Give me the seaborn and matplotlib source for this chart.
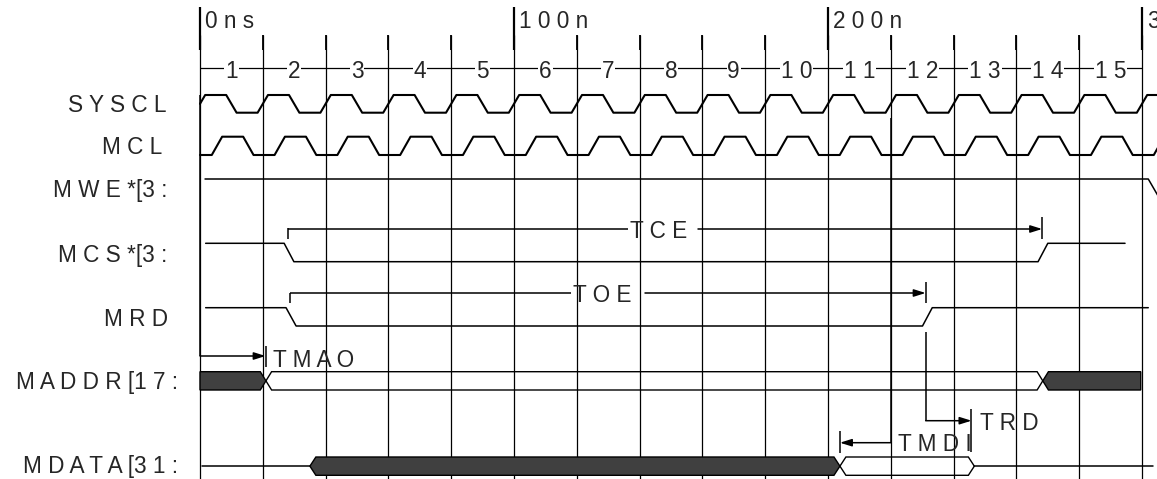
import numpy as np
import pandas as pd
import matplotlib
matplotlib.use("Agg")
import matplotlib.pyplot as plt
import seaborn as sns

# ---------------- data ----------------
signal_names = ["S Y S C L", "M C L", "M W E *[3 :", "M C S *[3 :", "M R D",
                "M A D D R [1 7 :", "M D A T A [3 1 :"]
time_marks_ns = [0, 100, 200, 300]
time_mark_labels = ["0 n s", "1 0 0 n", "2 0 0 n", "3"]
cycle_labels = ["1", "2", "3", "4", "5", "6", "7", "8", "9",
                "1 0", "1 1", "1 2", "1 3", "1 4", "1 5"]
clock_period_ns = 20
syscl_rise_ns = 0.0
mcl_rise_ns = 5.4
clock_edge_ns = 3.3

mwe_t = [1.6, 302.0, 305.5]
mwe_level = [1, 1, 0]
mcs_t = [1.8, 26.8, 29.9, 266.9, 270.0, 294.6]
mcs_level = [1, 1, 0, 0, 1, 1]
mrd_t = [1.8, 27.4, 30.6, 230.1, 233.2, 302.0]
mrd_level = [1, 1, 0, 0, 1, 1]

maddr_edges = [0.0, 21.0, 268.4, 299.6]
maddr_state = ["X", "V", "X"]
mdata_z_before = [0.6, 35.0]
mdata_edges = [35.0, 203.8, 246.6]
mdata_state = ["X", "V"]
mdata_z_after = [246.6, 303.5]

tce_ns = [28.0, 268.2]
toe_ns = [28.7, 231.1]
tmao_ns = [0.0, 20.9]
trd_ns = [231.1, 245.7]
tmdi_ns = [220.0, 203.8]

# ---------------- layout ----------------
PX0, PX_PER_NS, W, H = 200.0, 3.14, 1157, 479
def t_of(px):
    return (px - PX0) / PX_PER_NS

sns.set_theme(style="white")
plt.rcParams["font.family"] = ["Liberation Sans", "DejaVu Sans"]
FS = 16.3

fig = plt.figure(figsize=(W / 100, H / 100), dpi=100)
ax = fig.add_axes([0, 0, 1, 1])
ax.set_xlim(t_of(0), t_of(W))
ax.set_ylim(H, 0)
ax.axis("off")

# grid / ruler
grid_t = np.arange(0, 301, clock_period_ns)
ax.vlines(grid_t, 35, H, color="black", lw=0.9, zorder=1)
ax.vlines(grid_t, 35, 50, color="black", lw=1.3, zorder=1)
ax.vlines(time_marks_ns, 7, 50, color="black", lw=1.6, zorder=1)
for t, lab in zip(time_marks_ns, time_mark_labels):
    ax.text(t + t_of(205), 28.3, lab, fontsize=FS, ha="left", va="baseline")
ax.hlines(68, 0, 300, color="black", lw=0.9, zorder=1)
for i, lab in enumerate(cycle_labels):
    ax.text(grid_t[i] + clock_period_ns / 2, 78.3, lab, fontsize=FS, ha="center",
            va="baseline", zorder=3,
            bbox=dict(facecolor="white", edgecolor="none", pad=0.6))

# signal labels
label_right_px = [167, 162, 167, 167, 168, 178, 178]
label_base = [111.7, 154.3, 196.7, 261.7, 326.0, 389.3, 473.3]
for name, xr, yb in zip(signal_names, label_right_px, label_base):
    ax.text(t_of(xr), yb, name, fontsize=FS, ha="right", va="baseline")

# clocks
def clock_points(rise_c, t0, t1, y_hi, y_lo):
    rises = np.arange(rise_c - clock_period_ns, t1 + clock_period_ns, clock_period_ns)
    ts, ys = [], []
    for r in rises:
        f = r + clock_period_ns / 2
        e = clock_edge_ns / 2
        ts += [r - e, r + e, f - e, f + e]
        ys += [y_lo, y_hi, y_hi, y_lo]
    ts, ys = np.array(ts), np.array(ys)
    keep = (ts > t0) & (ts < t1)
    tt = np.concatenate([[t0], ts[keep], [t1]])
    yy = np.concatenate([[np.interp(t0, ts, ys)], ys[keep], [np.interp(t1, ts, ys)]])
    return tt, yy

rows = []
for sig, rc, hi, lo in [("SYSCL", syscl_rise_ns, 95.0, 112.7), ("MCL", mcl_rise_ns, 136.7, 155.0)]:
    tt, yy = clock_points(rc, 0.0, 310.0, hi, lo)
    rows += [dict(sig=sig, t=a, y=b, o=k) for k, (a, b) in enumerate(zip(tt, yy))]
clk = pd.DataFrame(rows)
sns.lineplot(data=clk, x="t", y="y", units="sig", estimator=None, sort=False,
             color="black", lw=1.5, ax=ax, legend=False, zorder=4)

rows = []
for sig, ts, lv, hi, lo in [("MWE", mwe_t, mwe_level, 179.0, 198.0),
                            ("MCS", mcs_t, mcs_level, 243.3, 261.7),
                            ("MRD", mrd_t, mrd_level, 307.7, 326.0),
                            ("MDZ1", mdata_z_before, [0.5, 0.5], 457.0, 475.3),
                            ("MDZ2", mdata_z_after, [0.5, 0.5], 457.0, 475.3)]:
    for k, (a, l) in enumerate(zip(ts, lv)):
        rows.append(dict(sig=sig, t=a, y=lo + (hi - lo) * l, o=k))
stp = pd.DataFrame(rows)
sns.lineplot(data=stp, x="t", y="y", units="sig", estimator=None, sort=False,
             color="black", lw=1.1, ax=ax, legend=False, zorder=4)

# buses
def bus(edges, states, top, bot, d, square_left, square_right):
    mid = (top + bot) / 2
    n = len(states)
    for i, st in enumerate(states):
        a, b = edges[i], edges[i + 1]
        pts = []
        if i == 0 and square_left:
            pts += [(a, bot), (a, top)]
        else:
            pts += [(a, mid), (a + d, top)]
        if i == n - 1 and square_right:
            pts += [(b, top), (b, bot)]
        else:
            pts += [(b - d, top), (b, mid), (b - d, bot)]
        if not (i == 0 and square_left):
            pts += [(a + d, bot)]
        xs, ys = zip(*pts)
        if st == "X":
            ax.fill(xs, ys, facecolor="#404040", edgecolor="black", lw=1.0, zorder=4)
        else:
            ax.fill(xs, ys, facecolor="none", edgecolor="black", lw=1.0, zorder=4)

bus(maddr_edges, maddr_state, 371.7, 390.0, 1.8, True, True)
bus(mdata_edges, mdata_state, 457.0, 475.3, 1.9, False, False)

# timing annotations
LW = 1.1
arrow = dict(arrowstyle="-|>,head_length=0.7,head_width=0.22", mutation_scale=10,
             lw=LW, color="black", shrinkA=0, shrinkB=0)
def bracket(t0, t1, y, tick_top, tick_bot, bar_top, bar_bot, label, text_px, gap_end_px, base):
    ax.vlines(t0, tick_top, tick_bot, color="black", lw=LW, zorder=5)
    ax.hlines(y, t0, t_of(text_px) - 0.5, color="black", lw=LW, zorder=5)
    ax.annotate("", xy=(t1, y), xytext=(t_of(gap_end_px), y), arrowprops=arrow, zorder=5)
    ax.vlines(t1, bar_top, bar_bot, color="black", lw=LW, zorder=5)
    ax.text(t_of(text_px), base, label, fontsize=FS, ha="left", va="baseline", zorder=5)

bracket(tce_ns[0], tce_ns[1], 229.0, 228.0, 239.0, 217.0, 239.0, "T C E", 630, 698, 238.3)
bracket(toe_ns[0], toe_ns[1], 293.0, 292.7, 303.0, 281.7, 303.0, "T O E", 573, 645, 301.7)

# TMAO
ax.vlines(tmao_ns[0], 95, 356, color="black", lw=LW, zorder=5)
ax.annotate("", xy=(tmao_ns[1], 356), xytext=(tmao_ns[0], 356), arrowprops=arrow, zorder=5)
ax.vlines(tmao_ns[1], 345.7, 366.7, color="black", lw=LW, zorder=5)
ax.text(t_of(273), 366.7, "T M A O", fontsize=FS, ha="left", va="baseline", zorder=5)

# TRD
ax.vlines(trd_ns[0], 332, 420.7, color="black", lw=LW, zorder=5)
ax.annotate("", xy=(trd_ns[1], 420.7), xytext=(trd_ns[0], 420.7), arrowprops=arrow, zorder=5)
ax.vlines(trd_ns[1], 409, 451.7, color="black", lw=LW, zorder=5)
ax.text(t_of(980), 430.0, "T R D", fontsize=FS, ha="left", va="baseline", zorder=5)

# TMDI
ax.vlines(tmdi_ns[0], 118, 442.7, color="black", lw=LW, zorder=5)
ax.annotate("", xy=(tmdi_ns[1], 442.7), xytext=(tmdi_ns[0], 442.7), arrowprops=arrow, zorder=5)
ax.vlines(tmdi_ns[1], 430.7, 453.3, color="black", lw=LW, zorder=5)
ax.text(t_of(898), 450.7, "T M D I", fontsize=FS, ha="left", va="baseline", zorder=5)

fig.savefig("out.png", dpi=100)
